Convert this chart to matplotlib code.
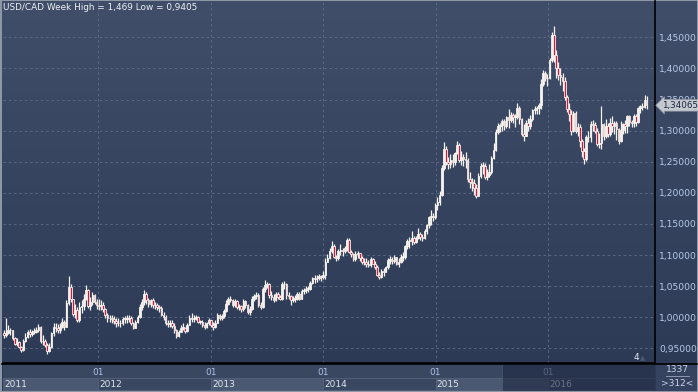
import numpy as np
import pandas as pd
import matplotlib
matplotlib.use('Agg')
import matplotlib.pyplot as plt
import matplotlib.dates as mdates
from matplotlib.colors import LinearSegmentedColormap
from matplotlib.patches import Rectangle
from matplotlib.ticker import FuncFormatter

# weekly USD/CAD, first week ends 2011-03-04
first_week = '2011-03-04'
first_open = 0.975

close_2011 = [0.972, 0.975, 0.980, 0.979, 0.966, 0.957, 0.960, 0.952, 0.947, 0.962, 0.969, 0.976, 0.973, 0.976, 0.977,
              0.979, 0.984, 0.962, 0.961, 0.955, 0.945, 0.952, 0.974, 0.985, 0.982, 0.980, 0.985, 0.992, 0.985, 1.023,
              1.048, 1.030, 1.005, 1.012, 0.995, 1.016, 1.018, 1.029, 1.043, 1.018, 1.024, 1.036, 1.025, 1.020]
high_2011 = [0.980, 0.999, 0.987, 0.983, 0.980, 0.968, 0.966, 0.962, 0.953, 0.965, 0.974, 0.980, 0.981, 0.980, 0.982,
             0.984, 0.989, 0.986, 0.972, 0.965, 0.958, 0.958, 0.976, 0.991, 0.990, 0.989, 0.990, 0.999, 0.995, 1.028,
             1.066, 1.053, 1.030, 1.022, 1.017, 1.025, 1.027, 1.037, 1.052, 1.045, 1.033, 1.040, 1.038, 1.030]
low_2011 = [0.967, 0.968, 0.973, 0.972, 0.963, 0.955, 0.953, 0.950, 0.944, 0.945, 0.960, 0.966, 0.968, 0.970, 0.973,
            0.974, 0.976, 0.959, 0.955, 0.952, 0.9405, 0.944, 0.950, 0.970, 0.977, 0.975, 0.975, 0.983, 0.979, 0.984,
            1.020, 1.025, 1.002, 0.999, 0.992, 0.993, 1.007, 1.012, 1.027, 1.015, 1.012, 1.020, 1.021, 1.013]

close_2012 = [1.018, 1.019, 1.013, 1.003, 0.998, 0.998, 0.997, 0.994, 0.990, 0.991, 0.990, 0.997, 0.997, 0.997, 0.998,
              0.990, 0.983, 0.993, 1.000, 1.017, 1.025, 1.037, 1.027, 1.022, 1.027, 1.019, 1.020, 1.016, 1.015, 1.003,
              1.000, 0.991, 0.989, 0.991, 0.986, 0.979, 0.970, 0.977, 0.983, 0.983, 0.978, 0.988, 0.999, 0.997, 0.999,
              1.000, 0.993, 0.993, 0.988, 0.984, 0.991, 0.995]
high_2012 = [1.030, 1.028, 1.024, 1.015, 1.006, 1.004, 1.003, 1.002, 0.998, 0.998, 0.996, 1.001, 1.002, 1.003, 1.004,
             1.002, 0.992, 0.996, 1.004, 1.022, 1.030, 1.044, 1.040, 1.031, 1.030, 1.031, 1.025, 1.023, 1.020, 1.018,
             1.008, 1.003, 0.995, 0.996, 0.995, 0.990, 0.981, 0.980, 0.988, 0.990, 0.985, 0.991, 1.003, 1.006, 1.003,
             1.004, 1.002, 0.996, 0.995, 0.992, 0.993, 0.998]
low_2012 = [1.012, 1.012, 1.009, 0.998, 0.993, 0.992, 0.990, 0.989, 0.985, 0.986, 0.984, 0.987, 0.990, 0.990, 0.992,
            0.987, 0.981, 0.982, 0.990, 0.998, 1.012, 1.019, 1.022, 1.016, 1.017, 1.015, 1.013, 1.011, 1.008, 1.002,
            0.995, 0.987, 0.985, 0.985, 0.983, 0.975, 0.966, 0.968, 0.976, 0.979, 0.975, 0.976, 0.987, 0.993, 0.993,
            0.995, 0.990, 0.989, 0.985, 0.981, 0.982, 0.987]

close_2013 = [0.988, 0.985, 0.991, 1.003, 0.998, 1.002, 1.010, 1.022, 1.030, 1.028, 1.020, 1.026, 1.016, 1.018, 1.014,
              1.026, 1.019, 1.008, 1.014, 1.030, 1.034, 1.036, 1.019, 1.017, 1.046, 1.052, 1.054, 1.036, 1.032, 1.028,
              1.037, 1.032, 1.030, 1.053, 1.054, 1.036, 1.034, 1.027, 1.030, 1.030, 1.037, 1.030, 1.042, 1.043, 1.045,
              1.045, 1.055, 1.063, 1.061, 1.063, 1.066, 1.064]
high_2013 = [0.996, 0.992, 0.995, 1.007, 1.005, 1.005, 1.013, 1.027, 1.033, 1.034, 1.030, 1.030, 1.028, 1.022, 1.020,
             1.029, 1.028, 1.021, 1.018, 1.034, 1.038, 1.040, 1.039, 1.025, 1.048, 1.060, 1.056, 1.055, 1.042, 1.038,
             1.041, 1.040, 1.036, 1.057, 1.059, 1.055, 1.040, 1.036, 1.034, 1.036, 1.040, 1.040, 1.046, 1.047, 1.050,
             1.050, 1.058, 1.065, 1.068, 1.068, 1.069, 1.068]
low_2013 = [0.984, 0.980, 0.983, 0.990, 0.995, 0.995, 0.998, 1.008, 1.020, 1.024, 1.017, 1.016, 1.014, 1.011, 1.008,
            1.010, 1.015, 1.005, 1.003, 1.012, 1.026, 1.030, 1.016, 1.013, 1.015, 1.040, 1.047, 1.031, 1.027, 1.025,
            1.026, 1.030, 1.027, 1.028, 1.045, 1.030, 1.029, 1.020, 1.025, 1.024, 1.028, 1.027, 1.029, 1.038, 1.039,
            1.041, 1.044, 1.053, 1.055, 1.056, 1.060, 1.059]

close_2014 = [1.068, 1.088, 1.096, 1.107, 1.114, 1.097, 1.095, 1.107, 1.108, 1.106, 1.111, 1.124, 1.105, 1.101, 1.093,
              1.102, 1.103, 1.096, 1.088, 1.089, 1.086, 1.084, 1.093, 1.086, 1.081, 1.068, 1.065, 1.074, 1.073, 1.080,
              1.092, 1.092, 1.091, 1.097, 1.086, 1.088, 1.097, 1.097, 1.114, 1.123, 1.123, 1.128, 1.121, 1.128, 1.133,
              1.129, 1.128, 1.139, 1.148, 1.161, 1.163, 1.161]
high_2014 = [1.075, 1.095, 1.101, 1.112, 1.122, 1.118, 1.100, 1.109, 1.118, 1.112, 1.115, 1.128, 1.127, 1.108, 1.104,
             1.106, 1.107, 1.104, 1.099, 1.095, 1.095, 1.092, 1.097, 1.096, 1.090, 1.084, 1.072, 1.077, 1.079, 1.083,
             1.095, 1.098, 1.097, 1.100, 1.097, 1.096, 1.101, 1.105, 1.116, 1.125, 1.129, 1.139, 1.130, 1.131, 1.144,
             1.137, 1.134, 1.142, 1.150, 1.162, 1.172, 1.167]
low_2014 = [1.061, 1.062, 1.088, 1.094, 1.103, 1.095, 1.090, 1.092, 1.100, 1.099, 1.103, 1.107, 1.104, 1.097, 1.090,
            1.090, 1.096, 1.091, 1.085, 1.084, 1.081, 1.080, 1.081, 1.085, 1.077, 1.067, 1.062, 1.063, 1.066, 1.072,
            1.078, 1.086, 1.085, 1.087, 1.084, 1.081, 1.087, 1.090, 1.094, 1.109, 1.112, 1.116, 1.117, 1.119, 1.125,
            1.124, 1.122, 1.125, 1.134, 1.144, 1.148, 1.154]

close_2015 = [1.180, 1.185, 1.197, 1.240, 1.271, 1.250, 1.246, 1.253, 1.250, 1.264, 1.277, 1.252, 1.257, 1.254, 1.253,
              1.222, 1.218, 1.215, 1.208, 1.195, 1.227, 1.243, 1.243, 1.226, 1.228, 1.233, 1.256, 1.269, 1.298, 1.307,
              1.309, 1.315, 1.308, 1.322, 1.317, 1.325, 1.322, 1.322, 1.337, 1.318, 1.295, 1.292, 1.312, 1.307, 1.318,
              1.333, 1.333, 1.336, 1.341, 1.375, 1.393, 1.385]
high_2015 = [1.183, 1.193, 1.203, 1.245, 1.281, 1.276, 1.257, 1.262, 1.262, 1.266, 1.283, 1.280, 1.267, 1.263, 1.265,
             1.256, 1.234, 1.224, 1.222, 1.214, 1.232, 1.248, 1.250, 1.248, 1.239, 1.247, 1.260, 1.280, 1.302, 1.312,
             1.312, 1.319, 1.319, 1.324, 1.335, 1.330, 1.328, 1.327, 1.345, 1.339, 1.321, 1.310, 1.317, 1.321, 1.325,
             1.334, 1.340, 1.340, 1.345, 1.383, 1.398, 1.396]
low_2015 = [1.158, 1.173, 1.181, 1.195, 1.237, 1.245, 1.238, 1.240, 1.242, 1.245, 1.262, 1.249, 1.245, 1.243, 1.240,
            1.218, 1.208, 1.203, 1.196, 1.192, 1.196, 1.224, 1.230, 1.222, 1.220, 1.226, 1.231, 1.255, 1.268, 1.294,
            1.297, 1.299, 1.301, 1.305, 1.305, 1.314, 1.313, 1.306, 1.319, 1.310, 1.292, 1.283, 1.291, 1.300, 1.302,
            1.316, 1.326, 1.326, 1.326, 1.335, 1.371, 1.380]

close_2016 = [1.384, 1.413, 1.453, 1.422, 1.401, 1.389, 1.387, 1.380, 1.354, 1.334, 1.327, 1.300, 1.329, 1.299, 1.306,
              1.284, 1.267, 1.254, 1.289, 1.290, 1.311, 1.309, 1.300, 1.278, 1.280, 1.310, 1.291, 1.308, 1.295, 1.313,
              1.307, 1.312, 1.302, 1.284, 1.301, 1.311, 1.308, 1.323, 1.314, 1.312, 1.324, 1.314, 1.337, 1.340, 1.338,
              1.350, 1.34065]
high_2016 = [1.391, 1.416, 1.458, 1.469, 1.430, 1.411, 1.400, 1.392, 1.386, 1.358, 1.345, 1.333, 1.332, 1.331, 1.313,
             1.310, 1.287, 1.272, 1.293, 1.300, 1.315, 1.317, 1.314, 1.304, 1.296, 1.339, 1.313, 1.318, 1.313, 1.321,
             1.324, 1.315, 1.316, 1.304, 1.316, 1.313, 1.317, 1.325, 1.325, 1.317, 1.327, 1.326, 1.338, 1.341, 1.345,
             1.357, 1.355]
low_2016 = [1.372, 1.383, 1.410, 1.410, 1.385, 1.382, 1.373, 1.363, 1.350, 1.330, 1.315, 1.293, 1.297, 1.296, 1.292,
            1.273, 1.258, 1.246, 1.251, 1.282, 1.282, 1.299, 1.296, 1.275, 1.272, 1.270, 1.285, 1.288, 1.290, 1.292,
            1.297, 1.295, 1.285, 1.279, 1.282, 1.294, 1.296, 1.296, 1.307, 1.306, 1.306, 1.308, 1.313, 1.329, 1.333,
            1.337, 1.335]

price_ticks = [0.95, 1.00, 1.05, 1.10, 1.15, 1.20, 1.25, 1.30, 1.35, 1.40, 1.45]
years = [2011, 2012, 2013, 2014, 2015, 2016]
title = 'USD/CAD Week High = 1,469 Low = 0,9405'

W, H = 698, 392


def rect(x0, y0, x1, y1):
    return [x0 / W, 1 - y1 / H, (x1 - x0) / W, (y1 - y0) / H]


def comma(v, n=5):
    return f'{v:.{n}f}'.replace('.', ',')


close = np.array(close_2011 + close_2012 + close_2013 + close_2014 + close_2015 + close_2016)
high = np.array(high_2011 + high_2012 + high_2013 + high_2014 + high_2015 + high_2016)
low = np.array(low_2011 + low_2012 + low_2013 + low_2014 + low_2015 + low_2016)
opn = np.r_[first_open, close[:-1]]
high = np.maximum(high, np.maximum(opn, close))
low = np.minimum(low, np.minimum(opn, close))

weeks = pd.date_range(first_week, periods=len(close), freq='W-FRI')
x = mdates.date2num(weeks) - 2
xlim = (mdates.date2num(pd.Timestamp('2011-02-27')), mdates.date2num(pd.Timestamp('2016-12-13')))
year_x = [mdates.date2num(pd.Timestamp(f'{y}-01-01')) for y in years]

fig = plt.figure(figsize=(W / 100, H / 100), dpi=100, facecolor='#8e97a5')

# gradient background
bg = fig.add_axes(rect(2, 1, 697, 391))
cmap = LinearSegmentedColormap.from_list('bg', ['#2c3955', '#404e69'])
bg.imshow(np.linspace(0, 1, 256).reshape(-1, 1), cmap=cmap, aspect='auto', origin='lower',
          extent=[0, 1, 0, 1])
bg.set_axis_off()

ax = fig.add_axes(rect(3, 1, 655, 363))
ax.set_facecolor('none')
ax.set_xlim(*xlim)
ax.set_ylim(0.9264, 1.5084)

ax.set_xticks(year_x[1:])
ax.set_yticks(price_ticks)
ax.grid(True, color='#5a6984', lw=0.7, ls=(0, (2.5, 3)))
ax.yaxis.tick_right()
ax.yaxis.set_major_formatter(FuncFormatter(lambda v, p: comma(v)))
ax.tick_params(axis='y', length=0, pad=3, labelsize=6.6, labelcolor='#b7cbea')
ax.tick_params(axis='x', length=0, labelbottom=False)
for s in ['left', 'top']:
    ax.spines[s].set_visible(False)
for s in ['right', 'bottom']:
    ax.spines[s].set_color('black')
    ax.spines[s].set_linewidth(1.2)

white = '#f6f3ee'
red = '#dc1238'
ax.vlines(x, low, high, color=white, lw=0.9, zorder=3)
body_lo = np.minimum(opn, close)
body_h = np.maximum(np.abs(close - opn), 0.0012)
colors = np.where(close < opn, red, white)
ax.bar(x, body_h, bottom=body_lo, width=5.2, color=colors, edgecolor=white, lw=0.6, zorder=4)

ax.annotate(comma(close[-1]), xy=(1, close[-1]), xycoords=('axes fraction', 'data'),
            xytext=(5, 0), textcoords='offset points', va='center', ha='left',
            fontsize=6.3, color='#1c2640',
            bbox=dict(boxstyle='larrow,pad=0.15', fc='#c4c8cf', ec='#8d94a0', lw=0.5),
            annotation_clip=False)

fig.text(3 / W, 1 - 8 / H, title, fontsize=6.4, color='#eef1f5', va='center', ha='left')
fig.text(636 / W, 1 - 357 / H, '4', fontsize=6.5, color='#e6eaf0', va='center', ha='center')
fig.text(643 / W, 1 - 358 / H, '\u25b2', fontsize=5, color='#4a5872', va='center', ha='center')

# date axis
axb = fig.add_axes(rect(3, 364, 655, 391))
axb.set_xlim(*xlim)
axb.set_ylim(0, 1)
axb.set_facecolor('#3a4761')
axb.set_xticks([])
axb.set_yticks([])
for s in axb.spines.values():
    s.set_visible(False)
starts = [xlim[0]] + year_x[1:]
ends = year_x[1:] + [xlim[1]]
for i, (y, a, b) in enumerate(zip(years, starts, ends)):
    fc = '#4b5871' if i % 2 == 0 else '#3a4761'
    axb.add_patch(Rectangle((a, 0.02), b - a, 0.46, fc=fc, ec='#56637b', lw=0.6))
    axb.text(a + 4, 0.25, str(y), fontsize=6.5, color='#e2e7ef', va='center', ha='left')
for xv in year_x[1:]:
    axb.text(xv, 0.7, '01', fontsize=6.5, color='#a9c1e4', va='center', ha='center')
ov_start = mdates.date2num(pd.Timestamp('2015-08-05'))
axb.add_patch(Rectangle((ov_start, 0), xlim[1] - ov_start, 1, fc='#1d2840', alpha=0.6,
                        ec='#56637b', lw=0.6, zorder=5))

# corner box
axc = fig.add_axes(rect(656, 364, 697, 391))
axc.set_axis_off()
axc.add_patch(Rectangle((0, 0), 1, 1, fc='#364360', transform=axc.transAxes))
fig.text(677 / W, 1 - 369 / H, '1337', fontsize=6.5, color='#c9d4e4', va='center', ha='center')
fig.add_artist(plt.Line2D([666 / W, 689 / W], [1 - 375.5 / H] * 2, color='#9aa6b8', lw=0.6))
fig.text(677 / W, 1 - 383 / H, '>312<', fontsize=6.5, color='#c9d4e4', va='center', ha='center')
fig.add_artist(plt.Line2D([2 / W, 697 / W], [1 - 363.5 / H] * 2, color='black', lw=1.2))

fig.savefig('out.png', dpi=100, facecolor=fig.get_facecolor())
